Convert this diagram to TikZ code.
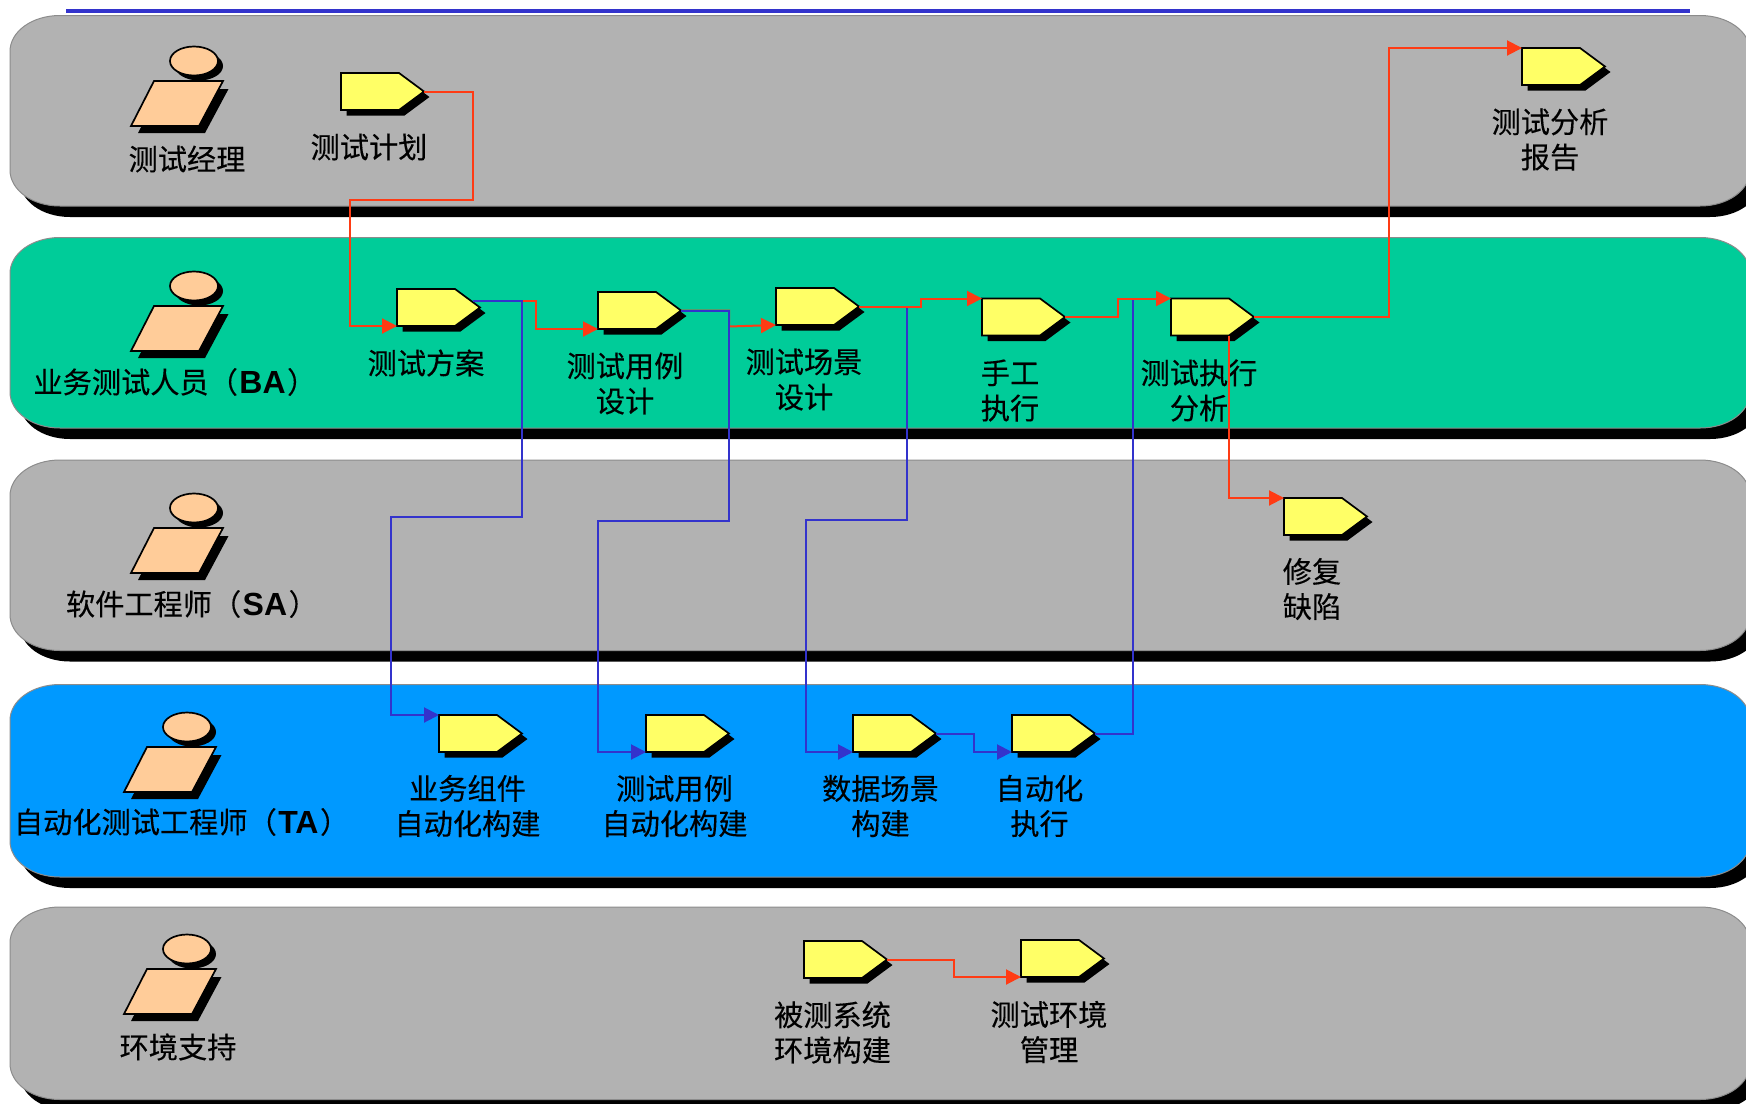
\documentclass[tikz,border=0pt]{standalone}
\usepackage{fontspec}
\setmainfont{Noto Sans CJK SC}[FakeBold=0.25]
\newfontfamily\latinb{Liberation Sans Bold}
\usetikzlibrary{arrows.meta,calc,shapes.geometric}
\definecolor{bandgray}{HTML}{B2B2B2}
\definecolor{bandgreen}{HTML}{00CC99}
\definecolor{bandblue}{HTML}{0099FF}
\definecolor{pentyellow}{HTML}{FFFF66}
\definecolor{skin}{HTML}{FFCC99}
\definecolor{linered}{HTML}{FF3B14}
\definecolor{lineblue}{HTML}{3333CC}
\definecolor{bandedge}{HTML}{8C8C8C}
\tikzset{
  x=1bp,y=-1bp,
  pentbox/.style={inner sep=0pt,outer sep=0pt,minimum width=83bp,minimum height=37bp},
  pentshape/.style={fill=pentyellow,draw=black,line width=1.7bp,line join=miter},
  personshape/.style={fill=skin,draw=black,line width=1.7bp,line join=miter},
  lab/.style={inner sep=0pt,outer sep=0pt,align=center,text=black,yshift=1bp,font=\fontsize{29.2bp}{35.2bp}\selectfont},
  redline/.style={draw=linered,line width=2bp,-{Triangle[length=15bp,width=15bp]}},
  blueline/.style={draw=lineblue,line width=2bp,-{Triangle[length=15bp,width=15bp]}},
}
\newcommand\bandpath[1]{(10,#1-36) -- (10,36) .. controls (10,16) and (32,0) .. (60,0) -- (1700,0) .. controls (1728,0) and (1750,16) .. (1750,36) -- (1750,#1-36) .. controls (1750,#1-16) and (1728,#1) .. (1700,#1) -- (60,#1) .. controls (32,#1) and (10,#1-16) .. (10,#1-36) -- cycle}
\newcommand\band[3]{%
  \pgfmathsetmacro\bh{#2-#1}%
  \begin{scope}[shift={(0,#1)}]
    \fill[black,shift={(10,11)}] \bandpath{\bh};
    \fill[#3] \bandpath{\bh};
    \draw[bandedge,line width=1bp] \bandpath{\bh};
  \end{scope}}
\newcommand\person[3]{%
  \begin{scope}[shift={(#2,#3)}]
    \fill[black] (5,5) ellipse [x radius=24,y radius=14.5];
    \fill[black] (-56,72) -- (-33,28) -- (34.5,28) -- (11,72) -- cycle;
    \node[personshape,ellipse,inner sep=0pt,minimum width=48bp,minimum height=29bp] (#1) at (0,0) {};
    \draw[personshape] (-63,65) -- (-40,20) -- (29,20) -- (5,65) -- cycle;
  \end{scope}}
\newcommand\pent[3]{%
  \begin{scope}[shift={(#2,#3)}]
    \fill[black] (5.5,5.5) -- (63.5,5.5) -- (88.5,24) -- (63.5,42.5) -- (5.5,42.5) -- cycle;
    \draw[pentshape] (0,0) -- (58,0) -- (83,18.5) -- (58,37) -- (0,37) -- cycle;
    \node[pentbox] (#1) at (41.5,18.5) {};
  \end{scope}}
\newcommand\latin[1]{\kern1.5bp{\latinb\fontsize{32bp}{35bp}\selectfont #1}\kern1.5bp}
\begin{document}
\begin{tikzpicture}
\useasboundingbox (0,0) rectangle (1746,1103.6);
\clip (0,0) rectangle (1746,1103.6);
\fill[white] (0,0) rectangle (1746,1103.6);
\fill[lineblue] (66,9) rectangle (1690,13);
\band{15.5}{206}{bandgray}
\band{237.5}{428}{bandgreen}
\band{460}{650.5}{bandgray}
\band{684.5}{877}{bandblue}
\band{907}{1099.5}{bandgray}
% persons
\person{p1}{194}{61}
\person{p2}{194}{286}
\person{p3}{194}{508}
\person{p4}{187}{727}
\person{p5}{187}{949}
% work products
\pent{jh}{341}{73}
\pent{bg}{1522}{48}
\pent{fa}{397}{289}
\pent{yl}{598}{292}
\pent{cj}{776}{288}
\pent{sg}{982}{298.5}
\pent{fx}{1171}{298.5}
\pent{xf}{1284}{498}
\pent{yw}{439}{715}
\pent{zl}{646}{715}
\pent{sj}{853}{715}
\pent{zd}{1012}{715}
\pent{bc}{804}{941}
\pent{hj}{1021}{940}
% role labels
\node[lab] (t1) at (187,160) {测试经理};
\node[lab,anchor=west] (t2) at (33.5,383) {业务测试人员（\latin{BA}）};
\node[lab,anchor=west] (t3) at (66,605) {软件工程师（\latin{SA}）};
\node[lab,anchor=west] (t4) at (14,823) {自动化测试工程师（\latin{TA}）};
\node[lab] (t5) at (178,1048) {环境支持};
% product labels
\node[lab] (l1) at (369,148) {测试计划};
\node[lab] (l2) at (1550,140.5) {测试分析\\报告};
\node[lab] (l3) at (426,364) {测试方案};
\node[lab] (l4) at (625,384.5) {测试用例\\设计};
\node[lab] (l5) at (804,380.5) {测试场景\\设计};
\node[lab] (l6) at (1010,391.5) {手工\\执行};
\node[lab] (l7) at (1199,391.5) {测试执行\\分析};
\node[lab] (l8) at (1312,590) {修复\\缺陷};
\node[lab] (l9) at (467.5,807) {业务组件\\自动化构建};
\node[lab] (l10) at (674.5,807) {测试用例\\自动化构建};
\node[lab] (l11) at (880.5,807) {数据场景\\构建};
\node[lab] (l12) at (1039.5,807) {自动化\\执行};
\node[lab] (l13) at (832.5,1033.5) {被测系统\\环境构建};
\node[lab] (l14) at (1049,1033) {测试环境\\管理};
% connectors under
\coordinate (faout) at ($(fa.east)+(-7,-7)$);
\draw[redline] (faout) -| (536,315) |- (yl.south west);
\draw[redline] (yl.east) -| (729,326.5) -- (cj.south west);
\draw[blueline] (faout) -| (522,517) -| (391,600) |- (yw.north west);
\draw[blueline] (yl.east) -| (729,521) -| (598,640) |- (zl.south west);
\draw[blueline] (cj.east) -| (906.5,520) -| (806,640) |- (sj.south west);
\draw[blueline] (sj.east) -| (974,743) |- (zd.south west);
\draw[draw=lineblue,line width=2bp] (zd.east) -| (1133,298.5);
% connectors over
\draw[redline] (jh.east) -| (473,200) -| (350,260) |- (fa.south west);
\draw[redline] (cj.east) -| (921,300) |- (sg.north west);
\draw[redline] (sg.east) -| (1118,305) |- (fx.north west);
\draw[redline] (fx.east) -| (1389,150) |- (bg.north west);
\coordinate (fxdown) at ($(fx.south west)+(57.5,0)$);
\draw[redline] (fxdown) |- (xf.north west);
\draw[redline] (bc.east) -| (954,968) |- (hj.south west);
\end{tikzpicture}
\end{document}
